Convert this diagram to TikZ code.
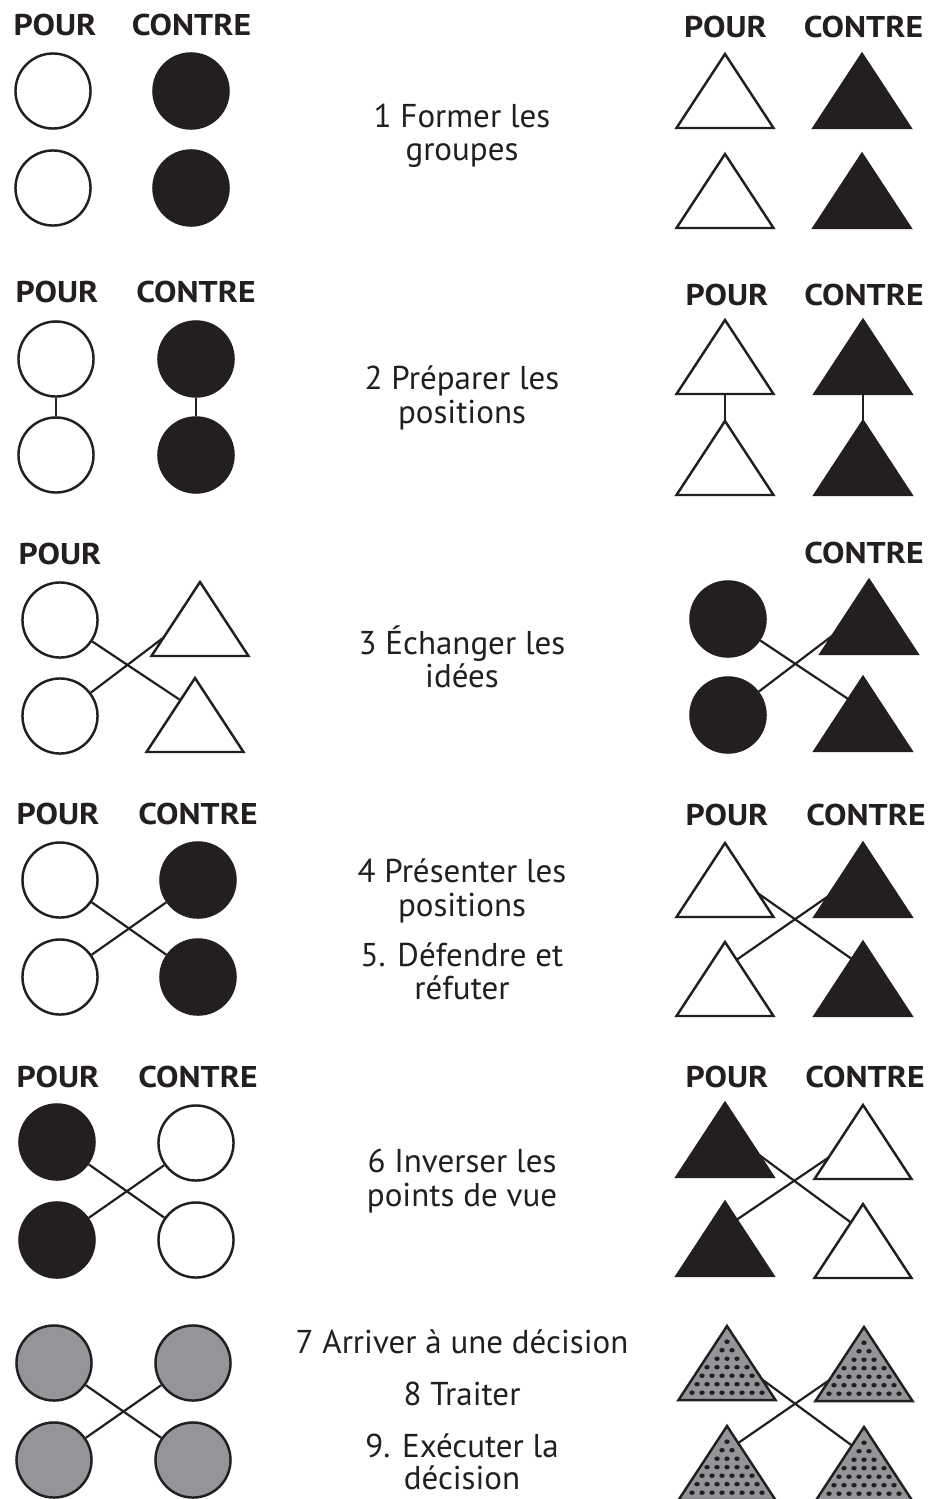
\documentclass[tikz,border=0pt]{standalone}
\usepackage{fontspec}
\setmainfont{PT Sans}[BoldFeatures={FakeStretch=1.12}]
\usetikzlibrary{calc}
\definecolor{ink}{HTML}{231F20}
\definecolor{midgray}{HTML}{939598}
\begin{document}
\begin{tikzpicture}[x=0.75pt,y=-0.75pt,
  outline/.style={draw=ink, line width=1.85pt},
  disc/.style={circle, minimum size=56.3pt, inner sep=0pt, outline},
  openC/.style={disc, fill=white},
  solidC/.style={disc, fill=ink},
  grayC/.style={disc, fill=midgray},
  openT/.style={outline, fill=white},
  solidT/.style={outline, fill=ink},
  grayT/.style={outline, fill=midgray},
  link/.style={draw=ink, line width=1.65pt},
  lbl/.style={font=\bfseries\fontsize{22.5}{27}\selectfont, text=ink, anchor=base, inner sep=0pt},
  txt/.style={font=\fontsize{24.75}{30}\selectfont, text=ink, anchor=base, inner sep=0pt},
  tri/.pic={
    \path[pic actions] (0,0) -- (-48.5,74) -- (48.5,74) -- cycle;
    \coordinate (-a) at (0,0);
    \coordinate (-l) at (-48.5,74);
    \coordinate (-r) at (48.5,74);
    \coordinate (-b) at (0,74);
  },
  dottri/.pic={
    \path[pic actions] (0,0) -- (-48.5,74) -- (48.5,74) -- cycle;
    \foreach \k in {0,...,6}{
      \pgfmathsetmacro\dd{15.7+8.5*\k}
      \pgfmathtruncatemacro\nn{(97*\dd/74-14)/10+1}
      \foreach \j in {1,...,\nn}{
        \fill[ink] ({10*(\j-1)-5*(\nn-1)},\dd) ellipse[x radius=2.05pt, y radius=1.7pt];
      }
    }
    \coordinate (-a) at (0,0);
    \coordinate (-l) at (-48.5,74);
    \coordinate (-r) at (48.5,74);
    \coordinate (-b) at (0,74);
  }
]
\useasboundingbox[fill=white] (0,0) rectangle (930,1499);

% ---------- step 1 ----------
\node[lbl] (r1pl) at (55,36) {POUR};
\node[lbl] (r1cl) at (191.5,36) {CONTRE};
\node[lbl] (r1pr) at (725.5,37) {POUR};
\node[lbl] (r1cr) at (863.5,37) {CONTRE};
\node[openC]  (r1w1) at (53,91) {};
\node[openC]  (r1w2) at (53,188) {};
\node[solidC] (r1b1) at (191,91) {};
\node[solidC] (r1b2) at (191,188) {};
\pic[openT]  (r1tw1) at (725,54) {tri};
\pic[openT]  (r1tw2) at (725,154) {tri};
\pic[solidT] (r1tb1) at (862,54) {tri};
\pic[solidT] (r1tb2) at (862,154) {tri};
\node[txt] (s1a) at (462,127) {1 Former les};
\node[txt] (s1b) at (462,160) {groupes};

% ---------- step 2 ----------
\node[lbl] (r2pl) at (57,302) {POUR};
\node[lbl] (r2cl) at (196,302) {CONTRE};
\node[lbl] (r2pr) at (727,305) {POUR};
\node[lbl] (r2cr) at (864,305) {CONTRE};
\node[openC]  (r2w1) at (56,359) {};
\node[openC]  (r2w2) at (56,455) {};
\node[solidC] (r2b1) at (196,359) {};
\node[solidC] (r2b2) at (196,455) {};
\draw[link] (r2w1) -- (r2w2);
\draw[link] (r2b1) -- (r2b2);
\pic[openT]  (r2tw1) at (725,320) {tri};
\pic[openT]  (r2tw2) at (725,421) {tri};
\pic[solidT] (r2tb1) at (863,320) {tri};
\pic[solidT] (r2tb2) at (863,421) {tri};
\draw[link] (r2tw1-b) -- (r2tw2-a);
\draw[link] (r2tb1-b) -- (r2tb2-a);
\node[txt] (s2a) at (462,389) {2 Préparer les};
\node[txt] (s2b) at (462,423) {positions};

% ---------- step 3 ----------
\node[lbl] (r3pl) at (60,564) {POUR};
\node[lbl] (r3cr) at (864,563) {CONTRE};
\node[openC] (r3w1) at (60,620) {};
\node[openC] (r3w2) at (60,716) {};
\pic[openT] (r3tw1) at (200,582) {tri};
\pic[openT] (r3tw2) at (195,678) {tri};
\draw[link] (r3w1) -- ($(r3tw2-a)!0.3!(r3tw2-l)$);
\draw[link] (r3w2) -- ($(r3tw1-a)!0.75!(r3tw1-l)$);
\node[solidC] (r3b1) at (728,619) {};
\node[solidC] (r3b2) at (728,715) {};
\pic[solidT] (r3tb1) at (869,580) {tri};
\pic[solidT] (r3tb2) at (863,677) {tri};
\draw[link] (r3b1) -- ($(r3tb2-a)!0.3!(r3tb2-l)$);
\draw[link] (r3b2) -- ($(r3tb1-a)!0.75!(r3tb1-l)$);
\node[txt] (s3a) at (462,654) {3 Échanger les};
\node[txt] (s3b) at (462,687) {idées};

% ---------- steps 4 and 5 ----------
\node[lbl] (r4pl) at (58,824) {POUR};
\node[lbl] (r4cl) at (198,824) {CONTRE};
\node[lbl] (r4pr) at (727,825) {POUR};
\node[lbl] (r4cr) at (866,825) {CONTRE};
\node[openC]  (r4w1) at (60,880) {};
\node[openC]  (r4w2) at (60,977) {};
\node[solidC] (r4b1) at (198,880) {};
\node[solidC] (r4b2) at (198,977) {};
\draw[link] (r4w1) -- (r4b2);
\draw[link] (r4w2) -- (r4b1);
\pic[openT]  (r4tw1) at (725,843) {tri};
\pic[openT]  (r4tw2) at (725,942) {tri};
\pic[solidT] (r4tb1) at (863,843) {tri};
\pic[solidT] (r4tb2) at (863,942) {tri};
\draw[link] ($(r4tw1-a)!0.68!(r4tw1-r)$) -- ($(r4tb2-a)!0.23!(r4tb2-l)$);
\draw[link] ($(r4tw2-a)!0.24!(r4tw2-r)$) -- ($(r4tb1-a)!0.72!(r4tb1-l)$);
\node[txt] (s4a) at (462,882) {4 Présenter les};
\node[txt] (s4b) at (462,916) {positions};
\node[txt] (s5a) at (462,966) {5. Défendre et};
\node[txt] (s5b) at (462,999) {réfuter};

% ---------- step 6 ----------
\node[lbl] (r6pl) at (58,1087) {POUR};
\node[lbl] (r6cl) at (198,1087) {CONTRE};
\node[lbl] (r6pr) at (727,1087) {POUR};
\node[lbl] (r6cr) at (865,1087) {CONTRE};
\node[solidC] (r6b1) at (57,1142) {};
\node[solidC] (r6b2) at (57,1240) {};
\node[openC]  (r6w1) at (196,1143) {};
\node[openC]  (r6w2) at (196,1240) {};
\draw[link] (r6b1) -- (r6w2);
\draw[link] (r6b2) -- (r6w1);
\pic[solidT] (r6tb1) at (725,1103) {tri};
\pic[solidT] (r6tb2) at (725,1202) {tri};
\pic[openT]  (r6tw1) at (863,1105) {tri};
\pic[openT]  (r6tw2) at (863,1204) {tri};
\draw[link] ($(r6tb1-a)!0.7!(r6tb1-r)$) -- ($(r6tw2-a)!0.25!(r6tw2-l)$);
\draw[link] ($(r6tb2-a)!0.24!(r6tb2-r)$) -- ($(r6tw1-a)!0.71!(r6tw1-l)$);
\node[txt] (s6a) at (462,1172) {6 Inverser les};
\node[txt] (s6b) at (462,1206) {points de vue};

% ---------- steps 7 to 9 ----------
\node[grayC] (r7g1) at (54,1363) {};
\node[grayC] (r7g2) at (54,1460) {};
\node[grayC] (r7g3) at (193,1363) {};
\node[grayC] (r7g4) at (193,1460) {};
\draw[link] (r7g1) -- (r7g4);
\draw[link] (r7g2) -- (r7g3);
\pic[grayT] (r7t1) at (727,1326) {dottri};
\pic[grayT] (r7t2) at (864,1327) {dottri};
\pic[grayT] (r7t3) at (727,1426) {dottri};
\pic[grayT] (r7t4) at (864,1427) {dottri};
\draw[link] ($(r7t1-a)!0.72!(r7t1-r)$) -- ($(r7t4-a)!0.25!(r7t4-l)$);
\draw[link] ($(r7t3-a)!0.23!(r7t3-r)$) -- ($(r7t2-a)!0.72!(r7t2-l)$);
\node[txt] (s7) at (462,1353) {7 Arriver à une décision};
\node[txt] (s8) at (462,1405) {8 Traiter};
\node[txt] (s9a) at (462,1457) {9. Exécuter la};
\node[txt] (s9b) at (462,1489) {décision};
\end{tikzpicture}
\end{document}
